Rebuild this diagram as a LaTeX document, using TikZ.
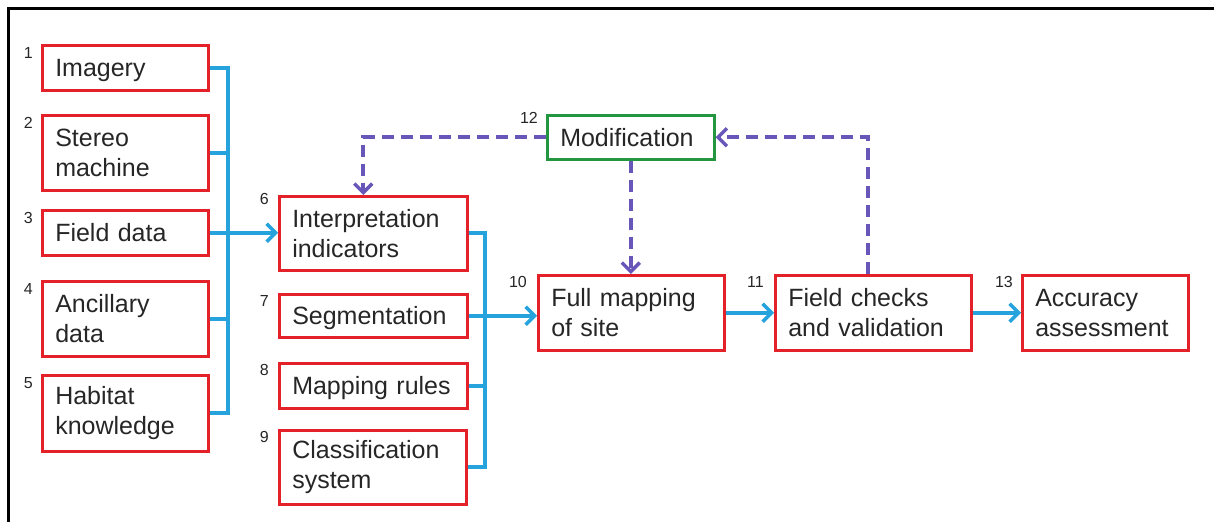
\documentclass[tikz,border=0pt]{standalone}
\usepackage{fontspec}
\setmainfont{Liberation Sans}
\usetikzlibrary{arrows.meta}

\definecolor{boxred}{RGB}{228,32,40}
\definecolor{modgreen}{RGB}{36,150,64}
\definecolor{linkblue}{RGB}{38,162,220}
\definecolor{fbpurple}{RGB}{104,86,184}

\newcommand\boxfont{\fontsize{25}{30}\selectfont}
\newcommand\numfont{\fontsize{16}{18}\selectfont}

\tikzset{
  box/.style={draw=boxred, line width=2.5pt, anchor=north west, inner xsep=13pt,
    inner ysep=0pt, align=left, font=\boxfont, text=black!85},
  oneline/.style={box, text depth=0pt},
  num/.style={anchor=north east, inner sep=0pt, font=\numfont, text=black!85},
  feed/.style={draw=linkblue, line width=4pt},
  feedarrow/.style={feed, -{Straight Barb[length=9pt, width=18pt, line width=3.5pt]}},
  back/.style={draw=fbpurple, line width=4pt, dash pattern=on 12pt off 7pt,
    -{Straight Barb[length=9pt, width=18pt, line width=3.5pt]}}
}

\begin{document}
\begin{tikzpicture}[x=1pt, y=-1pt]
    \useasboundingbox (0,0) rectangle (1214,522);
    \draw[line width=3pt] (8,522) -- (8,8) -- (1214,8);

    % inputs
    \node[oneline, text width=140pt, minimum height=45pt] (img) at (41,44) {Imagery};
    \node[box, text width=140pt, minimum height=75pt] (stereo) at (41,114) {Stereo\\machine};
    \node[oneline, text width=140pt, minimum height=45pt] (field) at (41,209) {Field data};
    \node[box, text width=140pt, minimum height=75pt] (ancil) at (41,280) {Ancillary\\data};
    \node[box, text width=140pt, minimum height=76pt] (habit) at (41,374) {Habitat\\knowledge};

    \node[box, text width=162pt, minimum height=74pt] (interp) at (278,195) {Interpretation\\indicators};
    \node[oneline, text width=162pt, minimum height=43pt] (seg) at (278,293) {Segmentation};
    \node[oneline, text width=162pt, minimum height=45pt] (rules) at (278,362) {Mapping rules};
    \node[box, text width=161pt, minimum height=74pt] (class) at (278,429) {Classification\\system};

    \node[box, text width=160pt, minimum height=75pt] (full) at (537,274) {Full mapping\\of site};
    \node[box, text width=170pt, minimum height=75pt] (check) at (774,274) {Field checks\\and validation};
    \node[box, text width=140pt, minimum height=75pt] (acc) at (1021,274) {Accuracy\\assessment};

    \node[oneline, draw=modgreen, text width=141pt, minimum height=44pt] (mod) at (546,114) {Modification};

    % step numbers
    \node[num] (n1) at ([shift={(-8,3)}]img.north west) {1};
    \node[num] (n2) at ([shift={(-8,3)}]stereo.north west) {2};
    \node[num] (n3) at ([shift={(-8,3)}]field.north west) {3};
    \node[num] (n4) at ([shift={(-8,3)}]ancil.north west) {4};
    \node[num] (n5) at ([shift={(-8,3)}]habit.north west) {5};
    \node[num] (n6) at ([shift={(-9,-2)}]interp.north west) {6};
    \node[num] (n7) at ([shift={(-9,2)}]seg.north west) {7};
    \node[num] (n8) at ([shift={(-9,2)}]rules.north west) {8};
    \node[num] (n9) at ([shift={(-9,2)}]class.north west) {9};
    \node[num] (n10) at ([shift={(-10,2)}]full.north west) {10};
    \node[num] (n11) at ([shift={(-10,2)}]check.north west) {11};
    \node[num] (n13) at ([shift={(-8,2)}]acc.north west) {13};
    \node[num] (n12) at ([shift={(-8,-2)}]mod.north west) {12};

    \coordinate (lbus) at (228,0);
    \coordinate (rbus) at (485,0);

    \draw[feed] (img.east) -| (lbus |- habit.east) -- (habit.east);
    \draw[feed] (stereo.east) -- (stereo.east -| lbus);
    \draw[feed] (ancil.east) -- (ancil.east -| lbus);
    \draw[feedarrow] (field.east) -- (field.east -| interp.west);

    \draw[feed] (interp.east) -| (rbus |- class.east) -- (class.east);
    \draw[feed] (rules.east) -- (rules.east -| rbus);
    \draw[feedarrow] (seg.east) -- (seg.east -| full.west);

    \draw[feedarrow] (full.east) -- (check.west);
    \draw[feedarrow] (check.east) -- (acc.west);

    % feedback loop
    \draw[back] (mod.west) -| ([xshift=-10]interp.north);
    \draw[back] (mod.south) -- (mod.south |- full.north);
    \draw[back] ([xshift=-5]check.north) |- (mod.east);
\end{tikzpicture}
\end{document}
